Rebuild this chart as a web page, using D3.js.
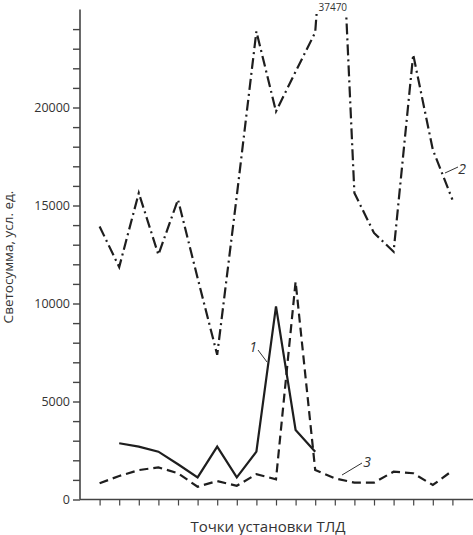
<!DOCTYPE html>
<html>
<head>
<meta charset="utf-8">
<script src="https://cdn.jsdelivr.net/npm/d3@7"></script>
<style>
  body { margin: 0; background: #fff; }
  text { font-family: "Open Sans", "Noto Sans", sans-serif; fill: #333; }
</style>
</head>
<body>
<div id="chart"></div>
<script>
// points of TLD placement, 1..19
var points = d3.range(1, 20);

// curve 1 (solid) - points 2..12
var s1idx = [2, 3, 4, 5, 6, 7, 8, 9, 10, 11, 12];
var s1 = [2870, 2700, 2440, 1800, 1130, 2700, 1130, 2440, 9850, 3550, 2440];

// curve 2 (dash-dot) - points 1..19
var s2 = [13930, 11860, 15640, 12490, 15300, 11300, 7380, 15500, 23880, 19800,
          21830, 23830, 37470, 15640, 13600, 12640, 22700, 17850, 15300];

// curve 3 (dashed) - points 1..19
var s3 = [830, 1200, 1500, 1640, 1340, 650, 940, 700, 1290, 1030,
          11120, 1510, 1080, 860, 860, 1420, 1340, 740, 1470];

var yTicks = d3.range(0, 25000, 1000);
var yLabels = [0, 5000, 10000, 15000, 20000];

var W = 473, H = 535;
var x = d3.scaleLinear().domain([0, 20]).range([80, 472]);
var y = d3.scaleLinear().domain([0, 25000]).range([499.5, 9.5]);

var svg = d3.select('#chart').append('svg')
    .attr('width', W)
    .attr('height', H);

svg.append('clipPath').attr('id', 'clip')
  .append('rect')
    .attr('x', 80).attr('y', 14)
    .attr('width', 400).attr('height', 500);

// axes
var yAxis = svg.append('g')
    .attr('transform', 'translate(80,0)')
    .call(d3.axisLeft(y)
        .tickValues(yTicks)
        .tickSize(7)
        .tickSizeOuter(0)
        .tickFormat(function(d) { return yLabels.indexOf(d) >= 0 ? d : ''; }));
yAxis.select('.domain').attr('stroke', '#444').attr('stroke-width', 1.6)
    .attr('d', 'M0,' + y(0) + 'V' + y(25000));
yAxis.selectAll('.tick line').attr('stroke', '#444').attr('stroke-width', 1.4);
yAxis.selectAll('.tick text')
    .attr('x', -10)
    .style('font-size', '12.5px')
    .style('font-family', '"Open Sans", sans-serif')
    .attr('fill', '#333');

var xAxis = svg.append('g')
    .attr('transform', 'translate(0,' + y(0) + ')')
    .call(d3.axisBottom(x)
        .tickValues(points)
        .tickSize(6)
        .tickSizeOuter(0)
        .tickFormat(''));
xAxis.select('.domain').attr('stroke', '#444').attr('stroke-width', 1.6)
    .attr('d', 'M80,0H473');
xAxis.selectAll('.tick line').attr('stroke', '#444').attr('stroke-width', 1.2);

// lines
var line = d3.line()
    .x(function(d) { return x(d[0]); })
    .y(function(d) { return y(d[1]); });

var g = svg.append('g').attr('clip-path', 'url(#clip)');

g.append('path')
    .datum(s2.map(function(v, i) { return [points[i], v]; }))
    .attr('d', line)
    .attr('fill', 'none')
    .attr('stroke', '#1e1e1e')
    .attr('stroke-width', 2.2)
    .attr('stroke-dasharray', '11,4,2,4');

g.append('path')
    .datum(s3.map(function(v, i) { return [points[i], v]; }))
    .attr('d', line)
    .attr('fill', 'none')
    .attr('stroke', '#1e1e1e')
    .attr('stroke-width', 2.2)
    .attr('stroke-dasharray', '9,5');

g.append('path')
    .datum(s1.map(function(v, i) { return [s1idx[i], v]; }))
    .attr('d', line)
    .attr('fill', 'none')
    .attr('stroke', '#1e1e1e')
    .attr('stroke-width', 2.2);

// off-scale value
svg.append('text')
    .attr('x', x(13) - 2)
    .attr('y', 11)
    .attr('text-anchor', 'middle')
    .style('font-size', '10px')
    .text(s2[12]);

// curve labels with leaders
var labels = [
  { t: '1', tx: 253, ty: 352, l: [258, 350, 267, 362] },
  { t: '2', tx: 462, ty: 174, l: [445, 173, 458, 167] },
  { t: '3', tx: 367, ty: 467, l: [362, 463, 342, 475] }
];
labels.forEach(function(d) {
  svg.append('line')
      .attr('x1', d.l[0]).attr('y1', d.l[1])
      .attr('x2', d.l[2]).attr('y2', d.l[3])
      .attr('stroke', '#333').attr('stroke-width', 1);
  svg.append('text')
      .attr('x', d.tx).attr('y', d.ty)
      .attr('text-anchor', 'middle')
      .style('font-size', '14px')
      .style('font-style', 'italic')
      .text(d.t);
});

// axis titles
svg.append('text')
    .attr('transform', 'translate(13,257) rotate(-90)')
    .attr('text-anchor', 'middle')
    .style('font-size', '13.5px')
    .text('Светосумма, усл. ед.');

svg.append('text')
    .attr('x', 268)
    .attr('y', 532)
    .attr('text-anchor', 'middle')
    .style('font-size', '15px')
    .text('Точки установки ТЛД');
</script>
</body>
</html>
